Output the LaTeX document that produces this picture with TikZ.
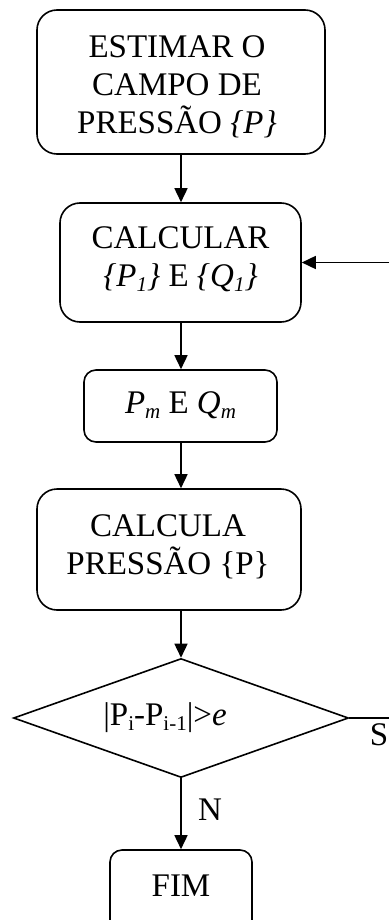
\documentclass[tikz,border=0pt]{standalone}
\usepackage{fontspec}
\setmainfont{Liberation Serif}
\usetikzlibrary{shapes.geometric,arrows.meta}
\newcommand{\lsub}[1]{\raisebox{-0.15em}{\fontsize{21}{21}\selectfont #1}}
\tikzset{
  box/.style={draw, line width=1.6pt, rounded corners=20pt, inner sep=0pt},
  sbox/.style={draw, line width=1.6pt, rounded corners=12pt, inner sep=0pt},
  txt/.style={align=center, inner sep=0pt, font=\fontsize{33}{38}\selectfont},
  arr/.style={line width=1.6pt, -{Triangle[length=14pt,width=13pt]}},
  ln/.style={line width=1.6pt},
}
\begin{document}
\begin{tikzpicture}[x=1pt,y=-1pt]
\useasboundingbox (0,0) rectangle (389,920);
\node[box, minimum width=288pt, minimum height=144pt] (b1) at (181,82) {};
\node[txt] (t1) at (177,87) {ESTIMAR O\\CAMPO DE\\PRESSÃO \textit{\{P\}}};
\node[box, minimum width=241pt, minimum height=119pt] (b2) at (180.5,262.5) {};
\node[txt] (t2) at (180.5,259) {CALCULAR\\\textit{\{P\lsub{1}\}} E \textit{\{Q\lsub{1}\}}};
\node[sbox, minimum width=193pt, minimum height=72pt] (b3) at (180.5,406) {};
\node[txt] (t3) at (180.5,405) {\textit{P\lsub{m}} E \textit{Q\lsub{m}}};
\node[box, minimum width=264pt, minimum height=121pt] (b4) at (169,549.5) {};
\node[txt] (t4) at (168,547) {CALCULA\\PRESSÃO \{P\}};
\node[diamond, draw, line width=1.6pt, minimum width=335pt, minimum height=119pt, inner sep=0pt] (d) at (181,718) {};
\node[txt] (t5) at (165,718) {|P\lsub{i}-P\lsub{i-1}|>\textit{e}};
\node[sbox, minimum width=142pt, minimum height=84pt] (b5) at (181,892) {};
\node[txt] (t6) at (181,886) {FIM};
\coordinate (r1) at (389,718);
\coordinate (r2) at (389,262.5);
\draw[arr] (b1.south) -- (b1.south |- b2.north);
\draw[arr] (b1.south |- b2.south) -- (b1.south |- b3.north);
\draw[arr] (b1.south |- b3.south) -- (b1.south |- b4.north);
\draw[arr] (b1.south |- b4.south) -- (d.north);
\draw[arr] (d.south) -- (b5.north);
\draw[ln] (d.east) -- (r1);
\draw[arr] (r2) -- (b2.east);
\node[txt] (s) at (379,735) {S};
\node[txt] (n) at (210,810) {N};
\end{tikzpicture}
\end{document}
